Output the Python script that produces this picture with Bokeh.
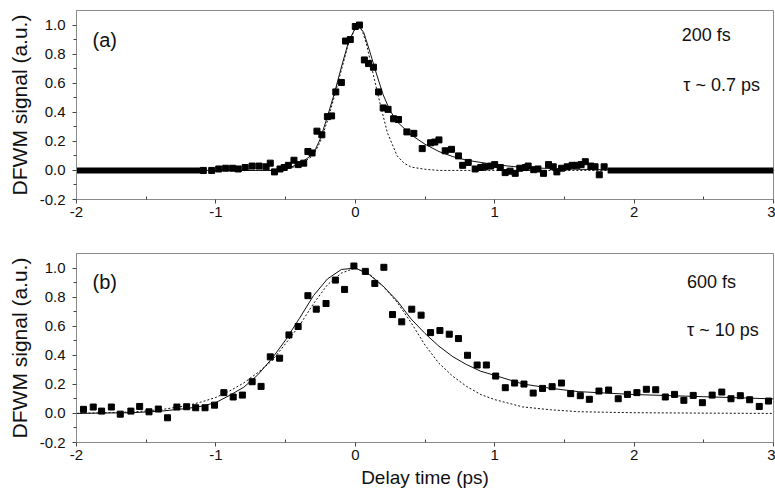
from bokeh.plotting import figure
from bokeh.layouts import column
from bokeh.models import FixedTicker, PrintfTickFormatter, Label, Range1d
from bokeh.embed import file_html
from bokeh.resources import INLINE

FONT = "Liberation Sans"

# ---------------- Panel (a): 200 fs, tau ~ 0.7 ps ----------------
a_x = [-1.09, -1.03, -0.98, -0.93, -0.88, -0.84, -0.79, -0.74, -0.69, -0.64,
       -0.61, -0.58, -0.54, -0.51, -0.48, -0.44, -0.41, -0.37, -0.34, -0.31,
       -0.275, -0.24, -0.20, -0.17, -0.14, -0.10, -0.07, -0.036, 0.0, 0.03,
       0.065, 0.095, 0.13, 0.167, 0.20, 0.235, 0.275, 0.31, 0.37, 0.42,
       0.48, 0.54, 0.57, 0.60, 0.645, 0.69, 0.74, 0.77, 0.81, 0.86,
       0.90, 0.93, 0.97, 1.00, 1.04, 1.075, 1.11, 1.147, 1.18, 1.22,
       1.24, 1.28, 1.31, 1.35, 1.386, 1.42, 1.446, 1.48, 1.52, 1.555,
       1.59, 1.62, 1.65, 1.69, 1.72, 1.75, 1.785]
a_y = [0.0, 0.0, 0.01, 0.015, 0.015, 0.01, 0.02, 0.03, 0.03, 0.025,
       0.05, -0.01, 0.01, 0.02, 0.035, 0.07, 0.04, 0.05, 0.13, 0.12,
       0.27, 0.245, 0.37, 0.375, 0.54, 0.605, 0.89, 0.90, 0.99, 1.0,
       0.76, 0.735, 0.71, 0.54, 0.43, 0.42, 0.355, 0.35, 0.265, 0.255,
       0.15, 0.19, 0.195, 0.21, 0.135, 0.145, 0.10, 0.035, 0.055, 0.01,
       0.02, 0.025, 0.03, 0.04, 0.02, -0.015, -0.005, -0.02, 0.015, 0.02,
       0.03, 0.005, 0.01, -0.02, 0.04, 0.025, -0.01, 0.015, 0.025, 0.035,
       0.035, 0.04, 0.06, 0.03, 0.025, -0.03, 0.025]

# densely packed zero-level points, drawn as thick bands
a_base_x0 = [-2.0, 1.81]
a_base_x1 = [-1.10, 3.0]
a_base_y = [0.0, 0.0]

a_fit_x = [-2.0, -0.6, -0.5, -0.4, -0.3, -0.25, -0.2, -0.15, -0.1, -0.05, 0.0, 0.02,
           0.06, 0.1, 0.15, 0.2, 0.25, 0.3, 0.4, 0.5, 0.6, 0.7, 0.8, 1.0, 1.2, 1.5, 2.0, 3.0]
a_fit_y = [0.0, 0.0, 0.01, 0.045, 0.115, 0.22, 0.37, 0.53, 0.71, 0.88, 0.98, 1.0,
           0.95, 0.83, 0.67, 0.52, 0.41, 0.335, 0.245, 0.18, 0.13, 0.095, 0.07, 0.04, 0.02, 0.01, 0.0, 0.0]

a_pulse_x = [-2.0, -0.6, -0.5, -0.4, -0.3, -0.25, -0.2, -0.15, -0.1, -0.05, 0.0, 0.02,
             0.05, 0.08, 0.13, 0.18, 0.23, 0.3, 0.35, 0.4, 0.5, 0.6, 3.0]
a_pulse_y = [0.0, 0.0, 0.008, 0.035, 0.105, 0.2, 0.34, 0.51, 0.69, 0.87, 0.98, 1.0,
             0.96, 0.87, 0.655, 0.45, 0.26, 0.10, 0.05, 0.023, 0.008, 0.0, 0.0]

# ---------------- Panel (b): 600 fs, tau ~ 10 ps ----------------
b_x = [-1.95, -1.88, -1.82, -1.75, -1.686, -1.61, -1.547, -1.48, -1.413, -1.347,
       -1.28, -1.21, -1.145, -1.078, -1.01, -0.943, -0.876, -0.81, -0.74, -0.676,
       -0.61, -0.543, -0.476, -0.41, -0.34, -0.28, -0.21, -0.143, -0.077, -0.01,
       0.072, 0.14, 0.205, 0.267, 0.333, 0.405, 0.472, 0.54, 0.607, 0.674,
       0.74, 0.805, 0.874, 0.94, 1.007, 1.076, 1.143, 1.21, 1.276, 1.343,
       1.412, 1.479, 1.545, 1.614, 1.679, 1.748, 1.817, 1.886, 1.952, 2.02,
       2.088, 2.155, 2.224, 2.29, 2.357, 2.424, 2.49, 2.56, 2.629, 2.695,
       2.762, 2.829, 2.898, 2.964]
b_y = [0.028, 0.044, 0.016, 0.044, -0.005, 0.016, 0.048, 0.011, 0.03, -0.03,
       0.044, 0.046, 0.039, 0.039, 0.057, 0.143, 0.113, 0.126, 0.218, 0.186,
       0.389, 0.38, 0.54, 0.598, 0.81, 0.717, 0.756, 0.917, 0.853, 1.014,
       0.977, 0.894, 1.005, 0.68, 0.63, 0.717, 0.676, 0.556, 0.57, 0.545,
       0.515, 0.40, 0.333, 0.333, 0.257, 0.177, 0.209, 0.202, 0.14, 0.172,
       0.184, 0.209, 0.136, 0.122, 0.097, 0.154, 0.161, 0.101, 0.131, 0.143,
       0.166, 0.163, 0.113, 0.131, 0.09, 0.124, 0.074, 0.126, 0.147, 0.101,
       0.122, 0.094, 0.048, 0.085]

b_curve_x = [-2.0, -1.6, -1.4, -1.2, -1.1, -1.0, -0.9, -0.8, -0.7, -0.6, -0.5, -0.4,
             -0.3, -0.2, -0.1, 0.0, 0.1, 0.2, 0.3, 0.4, 0.5, 0.6, 0.7, 0.8, 0.9, 1.0,
             1.2, 1.4, 1.6, 1.8, 2.0, 2.5, 3.0]
b_fit_y = [0.0, 0.005, 0.015, 0.035, 0.05, 0.075, 0.125, 0.18, 0.265, 0.375, 0.505, 0.655,
           0.81, 0.925, 0.99, 1.0, 0.955, 0.875, 0.775, 0.65, 0.55, 0.462, 0.39, 0.335, 0.29, 0.262,
           0.203, 0.173, 0.15, 0.14, 0.13, 0.115, 0.10]
b_pulse_y = [0.0, 0.01, 0.025, 0.055, 0.08, 0.11, 0.155, 0.21, 0.28, 0.36, 0.48, 0.605,
             0.755, 0.885, 0.965, 1.0, 0.96, 0.875, 0.765, 0.625, 0.47, 0.345, 0.255, 0.185, 0.13, 0.095,
             0.045, 0.025, 0.012, 0.008, 0.005, 0.002, 0.0]

x_ticks = [-2, -1, 0, 1, 2, 3]
x_minor = [-1.5, -0.5, 0.5, 1.5, 2.5]
y_ticks = [-0.2, 0.0, 0.2, 0.4, 0.6, 0.8, 1.0]
y_minor = [-0.1, 0.1, 0.3, 0.5, 0.7, 0.9]

FRAME = "#8a8a8a"
INK = "#111111"


def make_panel(height, top, bottom, xlabel):
    p = figure(width=775, height=height, output_backend="svg", toolbar_location=None,
               x_range=Range1d(-2, 3), y_range=Range1d(-0.2, 1.1),
               min_border_left=76, min_border_right=2,
               min_border_top=top, min_border_bottom=bottom,
               background_fill_color="white", border_fill_color="white")
    p.grid.visible = False
    p.outline_line_color = FRAME
    p.outline_line_width = 1

    p.xaxis.ticker = FixedTicker(ticks=x_ticks, minor_ticks=x_minor)
    p.xaxis.formatter = PrintfTickFormatter(format="%d")
    p.yaxis.ticker = FixedTicker(ticks=y_ticks, minor_ticks=y_minor)
    p.yaxis.formatter = PrintfTickFormatter(format="%.1f")

    for ax in (p.xaxis[0], p.yaxis[0]):
        ax.axis_line_color = FRAME
        ax.major_tick_line_color = "#444444"
        ax.minor_tick_line_color = "#444444"
        ax.major_label_text_font = FONT
        ax.major_label_text_font_size = "15px"
        ax.major_label_text_color = INK
        ax.axis_label_text_font = FONT
        ax.axis_label_text_font_style = "normal"
        ax.axis_label_text_color = INK
    p.xaxis.major_tick_out = 4
    p.xaxis.major_tick_in = 0
    p.xaxis.minor_tick_out = 0
    p.xaxis.minor_tick_in = 3
    p.xaxis.major_label_standoff = 3
    p.yaxis.major_tick_out = 4
    p.yaxis.major_tick_in = 0
    p.yaxis.minor_tick_out = 3
    p.yaxis.minor_tick_in = 0
    p.yaxis.major_label_standoff = 7

    p.yaxis.axis_label = "DFWM signal (a.u.)"
    p.yaxis.axis_label_text_font_size = "21px"
    p.yaxis.axis_label_standoff = 6
    if xlabel:
        p.xaxis.axis_label = xlabel
        p.xaxis.axis_label_text_font_size = "19px"
        p.xaxis.axis_label_standoff = 4
    return p


pa = make_panel(230, 10, 31, None)
pa.line(a_pulse_x, a_pulse_y, line_color=INK, line_width=1, line_dash="2 2")
pa.line(a_fit_x, a_fit_y, line_color=INK, line_width=1)
pa.segment(x0=a_base_x0, y0=a_base_y, x1=a_base_x1, y1=a_base_y,
           line_color="black", line_width=6, line_cap="butt")
pa.scatter(a_x, a_y, marker="square", size=6, color="black")
pa.add_layout(Label(x=-1.885, y=0.90, text="(a)", text_font=FONT, text_font_size="20px",
                    text_baseline="middle", text_color=INK))
pa.add_layout(Label(x=2.342, y=0.93, text="200 fs", text_font=FONT, text_font_size="18px",
                    text_baseline="middle", text_color=INK))
pa.add_layout(Label(x=2.353, y=0.586, text="\u03c4 ~ 0.7 ps", text_font=FONT, text_font_size="18px",
                    text_baseline="middle", text_color=INK))

pb = make_panel(264, 23, 52, "Delay time (ps)")
pb.line(b_curve_x, b_pulse_y, line_color=INK, line_width=1, line_dash="2 2")
pb.line(b_curve_x, b_fit_y, line_color=INK, line_width=1)
pb.scatter(b_x, b_y, marker="square", size=6, color="black")
pb.add_layout(Label(x=-1.885, y=0.905, text="(b)", text_font=FONT, text_font_size="20px",
                    text_baseline="middle", text_color=INK))
pb.add_layout(Label(x=2.38, y=0.905, text="600 fs", text_font=FONT, text_font_size="18px",
                    text_baseline="middle", text_color=INK))
pb.add_layout(Label(x=2.38, y=0.572, text="\u03c4 ~ 10 ps", text_font=FONT, text_font_size="18px",
                    text_baseline="middle", text_color=INK))

layout = column(pa, pb, spacing=0)
open("out.html", "w").write(file_html(layout, INLINE))
